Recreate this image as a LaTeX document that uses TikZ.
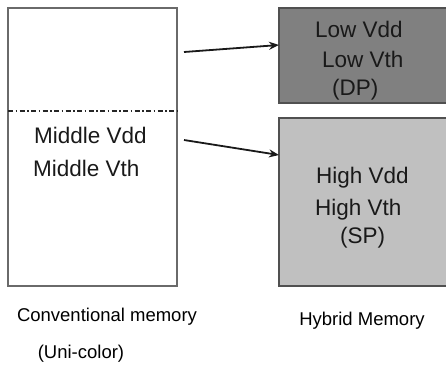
\documentclass[tikz,border=0pt]{standalone}
\usepackage{fontspec}
\setmainfont{Liberation Sans}
\usetikzlibrary{arrows.meta}
\definecolor{darkbox}{HTML}{808080}
\definecolor{lightbox}{HTML}{C0C0C0}
\definecolor{edgegray}{HTML}{505050}
\begin{document}
\begin{tikzpicture}[x=1pt,y=-1pt,
  boxstyle/.style={draw=edgegray,line width=1.2pt},
  big/.style={inner sep=0pt,font=\fontsize{22.5}{26}\selectfont,anchor=base west,text=black!90},
  small/.style={inner sep=0pt,font=\fontsize{18.5}{22}\selectfont,anchor=base,text=black},
  arr/.style={-{Stealth[length=10pt,width=8pt]},line width=1.8pt,black!90}]
\useasboundingbox (0,0) rectangle (446,370);
% left box
\draw[boxstyle,draw=edgegray!85] (8,8) rectangle (177,286);
\coordinate (dl) at (8,111);
\coordinate (dr) at (177,111);
\draw[line width=1.2pt,black!85,dash pattern=on 5pt off 2.5pt on 1.5pt off 2.5pt] (dl) -- (dr);
\node[big] (mvdd) at (34,143) {Middle Vdd};
\node[big] (mvth) at (33,176) {Middle Vth};
% right boxes
\draw[boxstyle,fill=darkbox] (279,8) rectangle (448,103);
\draw[boxstyle,fill=lightbox] (279,118) rectangle (448,286);
\coordinate (t1) at (279,45);
\coordinate (t2) at (279,155);
\coordinate (s1) at (184,52);
\coordinate (s2) at (184,140);
\node[big] (lvdd) at (315,37) {Low Vdd};
\node[big] (lvth) at (322,67) {Low Vth};
\node[big] (dp) at (332,95) {(DP)};
\node[big] (hvdd) at (316,183) {High Vdd};
\node[big] (hvth) at (315,215) {High Vth};
\node[big] (sp) at (340,243) {(SP)};
% arrows
\draw[arr] (s1) -- (t1);
\draw[arr] (s2) -- (t2);
% captions
\node[small] (conv) at (107,321) {Conventional memory};
\node[small] (uni) at (81,358) {(Uni-color)};
\node[small] (hyb) at (362,325) {Hybrid Memory};
\end{tikzpicture}
\end{document}
